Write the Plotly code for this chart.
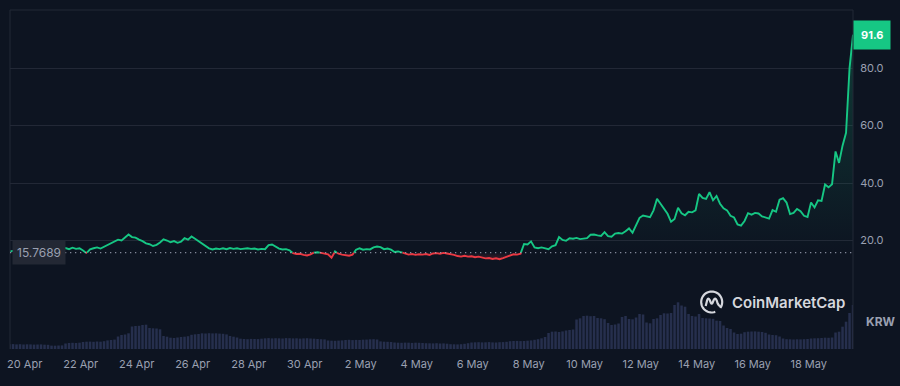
import numpy as np
import pandas as pd
import plotly.graph_objects as go

# ---------------- data ----------------
start_time = "2024-04-19 11:00"
step_hours = 3
baseline_price = 15.7689
last_price_text = "91.6"
currency = "KRW"

prices = [
    16.2, 16.4, 16.6, 16.3, 16.8, 16.5, 16.9, 16.6, 17.0, 16.8, 17.2, 16.9, 17.1, 16.8, 17.2, 17.0,
    17.4, 17.0, 17.5, 17.1, 17.3, 16.5, 15.6, 16.9, 17.3, 17.6, 17.2, 17.8,
    18.3, 19.0, 19.6, 20.3, 20.0, 21.2, 22.1, 21.2, 21.0,
    20.3, 19.8, 19.0, 18.7, 18.1, 18.5,
    19.3, 20.4, 20.0, 19.4, 19.8, 19.2, 19.6,
    20.8, 20.3, 21.4, 20.6, 19.8, 19.0, 18.2, 17.3, 16.9, 17.2, 17.0,
    17.3, 17.0, 17.4, 17.1, 17.3, 17.0, 17.2, 17.3, 17.1, 17.2, 16.9, 17.1, 17.0,
    18.4, 18.6, 17.9, 17.2, 16.9, 17.0, 16.6,
    15.6, 15.3, 15.4, 15.0, 14.8, 15.2,
    15.8, 15.9, 15.7, 15.6, 15.2, 14.0, 16.2, 15.4, 15.1, 15.0, 14.7, 15.1,
    16.8, 17.3, 16.8, 17.0, 16.9, 17.6, 17.9, 17.7, 17.0, 17.2, 16.8,
    16.0, 16.2, 15.9, 15.4, 15.1, 15.3, 15.0, 15.2, 15.1, 15.3, 15.0,
    15.5, 15.6, 15.4, 15.7, 15.5, 15.3, 15.0, 14.6, 14.4, 14.7, 14.4, 14.5, 14.2, 14.4, 14.1, 13.8,
    13.9, 13.6, 13.8, 13.5, 13.9, 14.3, 14.8, 15.2, 15.1, 15.4,
    18.8, 18.6, 19.7, 17.6, 17.3, 17.6, 17.3, 17.0, 18.0, 18.4, 21.2, 20.2, 19.9, 20.8, 20.6, 20.9,
    20.5, 20.7, 20.8,
    22.0, 22.1, 21.8, 21.6, 22.9, 21.5, 21.3, 22.4, 22.6, 22.4, 23.2, 24.2, 22.7, 25.3, 27.9, 28.7, 28.3,
    28.1, 30.5, 34.5, 32.8, 31.0, 29.3, 26.5, 27.5, 31.4, 29.5, 28.8, 30.0, 29.8, 30.5, 36.2, 34.8,
    34.5, 36.8,
    34.0, 35.5, 32.8, 31.2, 30.5, 28.6, 28.0, 25.6, 25.2, 26.8, 29.5, 29.0, 29.6, 29.4, 28.4, 28.1,
    27.6, 30.6, 30.0, 34.2,
    34.7, 33.2, 29.2, 29.6, 31.0, 30.2, 28.6, 28.2, 33.2, 31.5, 34.0, 33.8, 39.5, 38.5, 39.6, 51.0,
    47.0, 53.0, 57.5, 80.0, 91.6,
]

volumes = [
    4.7, 4.9, 4.6, 4.8, 4.5, 4.7, 4.6, 4.4, 4.5, 4.6, 4.3, 4.2,
    3.4, 3.3, 3.5, 3.6,
    5.5, 6.0, 6.2, 6.0, 6.3,
    7.0, 7.3, 7.4, 7.2, 7.5, 7.3, 7.8,
    8.6, 9.0, 9.4,
    12.5, 14.0, 14.5,
    15.7,
    22.5, 23.0, 23.2,
    24.0, 24.3,
    21.0, 20.7, 20.5,
    19.7,
    13.0, 12.3,
    11.3, 11.0, 11.5,
    12.0, 12.3, 12.8,
    14.2, 14.7, 15.0,
    15.7, 15.5, 15.8, 15.6, 15.7, 15.4, 15.2, 14.6,
    13.0, 12.3, 11.5,
    10.3, 10.0, 9.8, 10.1, 10.0, 9.9, 10.3,
    10.7, 10.9, 10.6, 10.8, 10.7, 10.5, 10.9, 10.8, 10.6, 10.7, 10.4, 10.6, 10.8, 10.5, 10.3,
    10.0, 9.8, 9.6,
    8.5, 8.3, 8.2, 8.4, 8.6,
    9.0, 9.2, 8.9, 9.1, 9.0, 9.3, 9.4,
    9.7, 9.8, 9.5,
    7.6, 7.3, 7.2, 7.0,
    6.5, 6.3, 6.2, 6.4, 6.3, 6.1, 6.3, 6.2, 6.0,
    5.8, 5.7, 5.6, 5.8, 5.5, 5.6, 5.3,
    4.8, 4.7, 4.6, 4.8, 5.2, 5.8,
    6.5, 6.7, 6.8, 6.6, 6.7, 6.9, 6.6, 6.5, 6.8, 6.9, 7.2,
    7.8, 8.0, 8.1, 7.9, 8.0, 8.3, 8.6, 9.2,
    9.8, 10.7, 12.0,
    16.0, 17.3, 17.5, 17.0, 17.6,
    18.5, 19.0, 19.5,
    29.5, 30.7,
    33.0, 33.3, 32.8, 33.0,
    31.0, 30.7, 29.8,
    26.0, 24.0, 24.5, 25.5,
    32.0, 33.0,
    30.0, 29.7, 31.5,
    35.0, 34.5,
    26.5, 25.7,
    30.0, 30.7,
    34.0, 35.7, 35.5, 36.0,
    44.0, 46.7,
    43.5, 42.3,
    35.0, 33.0, 32.5,
    35.0,
    31.0, 30.7, 30.5, 30.2,
    28.3, 28.0,
    23.5, 21.0, 20.0,
    16.5, 15.0, 15.3,
    16.8, 17.3, 17.5, 17.6, 17.3, 17.0, 16.2,
    14.5, 14.0, 13.8, 12.5,
    10.5, 9.8, 9.7, 9.5, 9.7, 9.6, 9.8, 10.0,
    10.5, 10.7, 10.8,
    11.0, 11.3, 11.2, 11.5,
    16.5, 17.3,
    22.3,
    27.3,
    36.0, 44.0,
]

x_tick_dates = ["2024-04-20", "2024-04-22", "2024-04-24", "2024-04-26", "2024-04-28",
                "2024-04-30", "2024-05-02", "2024-05-04", "2024-05-06", "2024-05-08",
                "2024-05-10", "2024-05-12", "2024-05-14", "2024-05-16", "2024-05-18"]
x_tick_labels = ["20 Apr", "22 Apr", "24 Apr", "26 Apr", "28 Apr", "30 Apr", "2 May", "4 May",
                 "6 May", "8 May", "10 May", "12 May", "14 May", "16 May", "18 May"]
y_tick_vals = [0, 20, 40, 60, 80]
y_tick_labels = ["", "20.0", "40.0", "60.0", "80.0"]
x_range = ["2024-04-19 11:24", "2024-05-19 13:58"]

assert len(prices) == len(volumes), (len(prices), len(volumes))

# ---------------- styling ----------------
BG = "#0d1421"
GRID = "#222836"
GREEN = "#16c784"
RED = "#ea3943"
TICK = "#9aa0b1"

start = pd.Timestamp(start_time)
n = len(prices)
hours = np.arange(n) * float(step_hours)
times = start + pd.to_timedelta(hours, unit="h")

# insert baseline crossings so the colour split is continuous
xs, ys = [], []
for i in range(n):
    if i > 0:
        a, b = prices[i - 1], prices[i]
        if (a - baseline_price) * (b - baseline_price) < 0:
            f = (baseline_price - a) / (b - a)
            xs.append(hours[i - 1] + f * step_hours)
            ys.append(baseline_price)
    xs.append(hours[i])
    ys.append(prices[i])
tx = start + pd.to_timedelta(np.array(xs), unit="h")
ys = np.array(ys)
green_line = [y if y >= baseline_price else None for y in ys]
red_line = [y if y <= baseline_price else None for y in ys]
upper = np.maximum(ys, baseline_price)
lower = np.minimum(ys, baseline_price)
base_arr = np.full(len(ys), baseline_price)

fig = go.Figure()
# volume
fig.add_trace(go.Bar(x=times, y=volumes, yaxis="y2",
                     width=step_hours * 3600 * 1000 * 0.72,
                     marker=dict(color="#262f4d", line=dict(width=0)),
                     hoverinfo="skip"))
# fills
fig.add_trace(go.Scatter(x=tx, y=base_arr, mode="lines", line=dict(width=0), hoverinfo="skip"))
fig.add_trace(go.Scatter(x=tx, y=upper, mode="lines", line=dict(width=0), fill="tonexty",
                         fillgradient=dict(type="vertical",
                                           colorscale=[[0, "rgba(22,199,132,0.0)"],
                                                       [1, "rgba(22,199,132,0.22)"]]),
                         hoverinfo="skip"))
fig.add_trace(go.Scatter(x=tx, y=base_arr, mode="lines", line=dict(width=0), hoverinfo="skip"))
fig.add_trace(go.Scatter(x=tx, y=lower, mode="lines", line=dict(width=0), fill="tonexty",
                         fillgradient=dict(type="vertical",
                                           colorscale=[[0, "rgba(234,57,67,0.22)"],
                                                       [1, "rgba(234,57,67,0.0)"]]),
                         hoverinfo="skip"))
# lines
fig.add_trace(go.Scatter(x=tx, y=green_line, mode="lines", line=dict(color=GREEN, width=1.9),
                         connectgaps=False))
fig.add_trace(go.Scatter(x=tx, y=red_line, mode="lines", line=dict(color=RED, width=1.9),
                         connectgaps=False))

dom_split = 51 / 339.0

fig.update_layout(
    width=900, height=386,
    margin=dict(l=10, r=47, t=10, b=37, autoexpand=False),
    paper_bgcolor=BG, plot_bgcolor=BG, showlegend=False,
    font=dict(family="Inter", size=11, color=TICK),
    xaxis=dict(type="date", range=x_range, anchor="y2", tickvals=x_tick_dates,
               ticktext=x_tick_labels, showgrid=False, zeroline=False, showline=False,
               ticks="outside", ticklen=5, tickcolor="rgba(0,0,0,0)", automargin=False,
               tickfont=dict(size=11, color=TICK)),
    yaxis=dict(domain=[dom_split, 1], range=[0, 100.2], side="right", tickvals=y_tick_vals,
               ticktext=y_tick_labels, gridcolor=GRID, gridwidth=1, zeroline=False,
               ticks="outside", ticklen=4, tickcolor="rgba(0,0,0,0)", automargin=False,
               tickfont=dict(size=11, color=TICK)),
    yaxis2=dict(domain=[0, dom_split], range=[0, 51], showgrid=False, showticklabels=False,
                zeroline=False, automargin=False),
)

shapes = [
    dict(type="line", xref="paper", yref="paper", x0=0, x1=0, y0=0, y1=1, line=dict(color=GRID, width=1)),
    dict(type="line", xref="paper", yref="paper", x0=0, x1=1, y0=1, y1=1, line=dict(color=GRID, width=1)),
    dict(type="line", xref="paper", yref="paper", x0=1, x1=1, y0=0, y1=1, line=dict(color=GRID, width=1)),
    dict(type="line", xref="paper", yref="y", x0=0, x1=1, y0=baseline_price, y1=baseline_price,
         line=dict(color="rgba(170,176,195,0.75)", width=1.3, dash="1.3px,3.7px"), layer="above"),
]

# CoinMarketCap logo (decoration) in pixel units around an anchor
cx, cy = (711.7 - 10) / 843.0, (349 - 302) / 339.0
r = 10.5
ang = np.linspace(np.deg2rad(-35), np.deg2rad(-35 + 325), 40)
arc = "M " + " L ".join(f"{r*np.cos(a):.2f},{r*np.sin(a):.2f}" for a in ang)
wave = "M -6,-4 L -4.5,2 Q -3.5,5 -2,2 L -0.8,-1 Q 0,-2.5 0.8,-1 L 2,2 Q 3.5,5 5,1.5 L 6,-1.5 Q 7,-4 9.5,-5"
for p in (arc, wave):
    shapes.append(dict(type="path", xref="paper", yref="paper", xsizemode="pixel", ysizemode="pixel",
                       xanchor=cx, yanchor=cy, path=p, line=dict(color="#d5d7dd", width=2.2)))
fig.update_layout(shapes=shapes)

annotations = [
    dict(xref="paper", yref="y", x=0, y=baseline_price, xanchor="left", yanchor="middle", xshift=2,
         text="15.7689", showarrow=False, bgcolor="#232834", borderpad=4,
         font=dict(size=12, color=TICK)),
    dict(xref="paper", yref="y", x=1, y=91.6, xanchor="left", yanchor="middle",
         text=f"<b>{last_price_text}</b>", showarrow=False, bgcolor=GREEN, borderpad=7,
         font=dict(size=11, color="#ffffff")),
    dict(xref="paper", yref="paper", x=1, y=0.08, xanchor="left", yanchor="middle", xshift=11,
         text=f"<b>{currency}</b>", showarrow=False, font=dict(size=12, color=TICK)),
    dict(xref="paper", yref="paper", x=(730 - 10) / 843.0, y=cy, xanchor="left", yanchor="middle",
         text="CoinMarketCap", showarrow=False,
         font=dict(size=15, color="#d5d7dd", family="Inter", weight=600)),
]
fig.update_layout(annotations=annotations)

fig.write_html("out.html", config={"displayModeBar": False},
               post_script="document.body.style.margin='0';document.body.style.overflow='hidden';")
